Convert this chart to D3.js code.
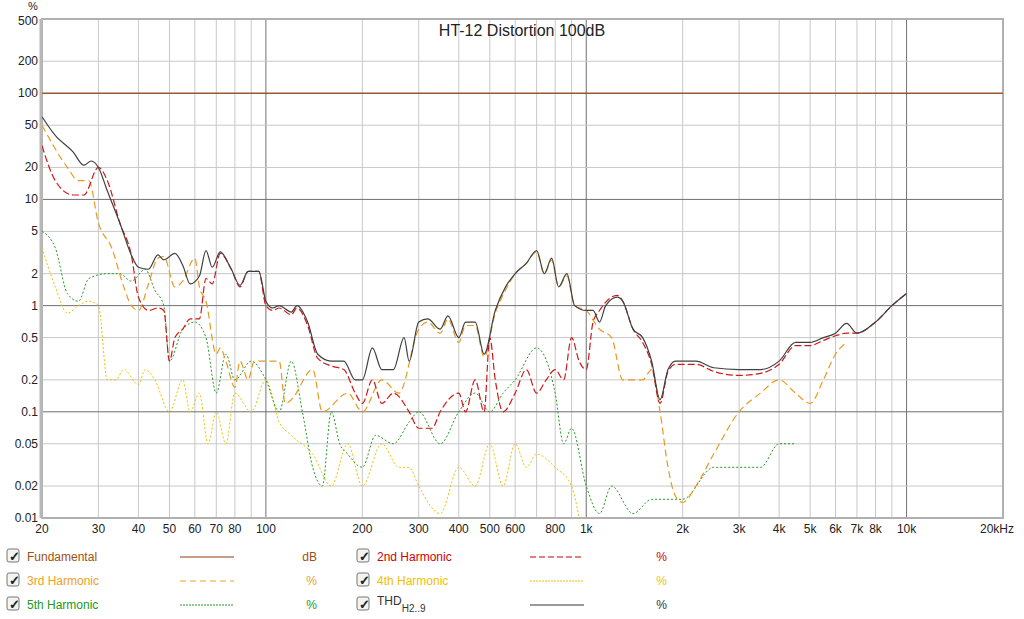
<!DOCTYPE html><html><head><meta charset="utf-8"><script src="https://cdn.jsdelivr.net/npm/d3@7"></script>
<style>body{margin:0;background:#fff;font-family:Arial,"Liberation Sans",sans-serif}</style></head><body><svg id="c" width="1024" height="619"></svg>
<script>
const xTicks=[20,30,40,50,60,70,80,100,200,300,400,500,600,800,1000,2000,3000,4000,5000,6000,7000,8000,10000,20000];
const xLabels=["20","30","40","50","60","70","80","100","200","300","400","500","600","800","1k","2k","3k","4k","5k","6k","7k","8k","10k","20kHz"];
const yTicks=[0.01,0.02,0.05,0.1,0.2,0.5,1,2,5,10,20,50,100,200,500];
const yLabels=["0.01","0.02","0.05","0.1","0.2","0.5","1","2","5","10","20","50","100","200","500"];
const thd=[[20,60],[22,40],[25,28],[27,21],[28.5,23],[30,20],[32,12],[35,6],[38,3],[40,2.3],[43,2.2],[46,3],[48,2.7],[52,3.1],[55,2.4],[58,1.6],[62,1.9],[65,3.3],[68,2.3],[72,3.2],[78,2.2],[83,1.55],[88,2.1],[95,2.1],[100,1.1],[105,0.95],[110,1.0],[120,0.87],[125,1.0],[135,0.7],[145,0.35],[160,0.3],[175,0.3],[190,0.2],[200,0.2],[215,0.4],[230,0.25],[250,0.25],[270,0.5],[280,0.3],[300,0.7],[320,0.75],[350,0.6],[370,0.8],[400,0.5],[420,0.7],[450,0.7],[480,0.35],[520,0.9],[560,1.5],[600,2],[650,2.5],[700,3.3],[740,2.0],[780,2.8],[820,1.5],[870,2.0],[920,1.0],[1000,0.9],[1050,0.9],[1100,0.7],[1150,1.0],[1250,1.2],[1300,1.1],[1400,0.6],[1500,0.5],[1600,0.3],[1700,0.13],[1800,0.25],[1900,0.3],[2000,0.3],[2200,0.3],[2500,0.26],[3000,0.25],[3500,0.25],[4000,0.3],[4500,0.45],[5000,0.45],[5500,0.5],[6000,0.55],[6500,0.68],[7000,0.55],[8000,0.7],[9000,1.0],[10000,1.3]];
const h2=[[20,32],[22,15],[25,11],[27,11],[30,20],[32,15],[35,6],[38,3],[40,1.2],[43,0.9],[46,0.95],[48,0.9],[50,0.3],[52,0.5],[55,0.6],[58,0.75],[62,0.75],[65,1.8],[68,1.6],[72,3.1],[78,2.2],[83,1.5],[88,2.1],[95,2.1],[100,1.0],[105,0.9],[110,0.95],[120,0.82],[125,0.95],[135,0.65],[145,0.32],[160,0.27],[175,0.25],[190,0.15],[200,0.12],[215,0.2],[230,0.12],[250,0.15],[280,0.1],[300,0.07],[330,0.07],[350,0.1],[400,0.15],[420,0.1],[450,0.2],[480,0.1],[500,0.5],[520,0.2],[550,0.1],[600,0.15],[650,0.25],[700,0.15],[750,0.2],[800,0.25],[850,0.2],[900,0.5],[950,0.3],[1000,0.25],[1050,0.7],[1100,0.9],[1250,1.25],[1300,1.1],[1400,0.6],[1500,0.45],[1600,0.28],[1700,0.12],[1800,0.24],[1900,0.28],[2000,0.28],[2200,0.28],[2500,0.24],[3000,0.22],[3500,0.23],[4000,0.28],[4500,0.42],[5000,0.42],[5500,0.47],[6000,0.52],[6500,0.55],[7000,0.55],[8000,0.7],[9000,1.0],[10000,1.3]];
const h3=[[20,50],[24,20],[26,15],[28,15],[30,6],[33,3.5],[36,1.5],[38,1.0],[40,0.9],[43,1.6],[46,2.8],[48,2.9],[52,1.5],[55,1.7],[60,2.8],[62,1.5],[65,1.1],[70,0.35],[72,0.4],[75,0.3],[80,0.17],[83,0.3],[88,0.2],[92,0.3],[100,0.3],[110,0.3],[115,0.12],[120,0.13],[140,0.25],[150,0.1],[180,0.15],[200,0.1],[230,0.2],[260,0.15],[300,0.6],[320,0.7],[350,0.55],[370,0.75],[400,0.45],[420,0.65],[450,0.65],[480,0.33],[520,0.85],[560,1.4],[600,2],[650,2.5],[700,3.2],[740,2.0],[780,2.7],[820,1.5],[870,1.9],[920,1.0],[1000,0.9],[1100,0.6],[1200,0.5],[1300,0.2],[1400,0.2],[1500,0.2],[1600,0.25],[1700,0.1],[1800,0.03],[1900,0.016],[2000,0.014],[2200,0.02],[2500,0.04],[3000,0.1],[3500,0.15],[4000,0.2],[4500,0.15],[5000,0.12],[5500,0.2],[6000,0.35],[6500,0.45]];
const h4=[[20,3.5],[22,1.5],[24,0.85],[26,1.0],[28,1.1],[30,1.0],[32,0.2],[34,0.2],[36,0.25],[40,0.18],[42,0.25],[45,0.2],[50,0.1],[55,0.2],[58,0.1],[62,0.15],[66,0.05],[70,0.1],[75,0.05],[80,0.15],[90,0.1],[100,0.2],[110,0.08],[120,0.06],[140,0.04],[160,0.02],[180,0.05],[200,0.02],[230,0.05],[260,0.03],[280,0.03],[300,0.02],[350,0.011],[400,0.03],[450,0.02],[500,0.05],[550,0.02],[600,0.05],[650,0.03],[700,0.04],[800,0.03],[900,0.02],[950,0.01]];
const h5=[[20,5],[22,3.5],[24,1.3],[26,1.1],[28,1.8],[32,2],[35,2],[38,1.7],[42,2.2],[45,1.4],[48,1.0],[50,0.3],[55,0.6],[60,0.7],[65,0.5],[70,0.15],[75,0.35],[80,0.2],[90,0.3],[100,0.2],[110,0.1],[120,0.3],[130,0.1],[140,0.03],[150,0.02],[160,0.1],[170,0.05],[180,0.04],[200,0.03],[220,0.06],[250,0.05],[280,0.08],[300,0.1],[350,0.05],[400,0.1],[450,0.15],[500,0.1],[550,0.15],[600,0.2],[700,0.4],[800,0.15],[850,0.05],[900,0.07],[1000,0.02],[1100,0.011],[1200,0.02],[1400,0.011],[1600,0.015],[1800,0.015],[2000,0.015],[2500,0.03],[3000,0.03],[3500,0.03],[4000,0.05],[4500,0.05]];
const fund=[[20,100],[20000,100]];
const svg=d3.select("#c");
const L=42,R=1003,T=19,B=518;
const x=d3.scaleLog().domain([20,20000]).range([L,R]);
const y=d3.scaleLog().domain([0.01,500]).range([B,T]);
const g=svg.append("g");
const minorX=[];for(let d=10;d<=10000;d*=10)for(let k=2;k<=10;k++){const v=d*k;if(v>=20&&v<=20000)minorX.push(v);}
minorX.forEach(v=>{const maj=(v===100||v===1000||v===10000);g.append("line").attr("x1",x(v)).attr("x2",x(v)).attr("y1",T).attr("y2",B).attr("stroke",maj?"#707070":"#c8c8c8").attr("stroke-width",1);});
yTicks.forEach(v=>{const maj=Math.abs(Math.log10(v)%1)<1e-6;g.append("line").attr("x1",L).attr("x2",R).attr("y1",y(v)).attr("y2",y(v)).attr("stroke",maj?"#707070":"#c8c8c8");});
svg.append("rect").attr("x",L).attr("y",T).attr("width",R-L).attr("height",B-T).attr("fill","none").attr("stroke","#b0b0b0").attr("stroke-width",2);
svg.append("line").attr("x1",L-1).attr("x2",L-1).attr("y1",T).attr("y2",B).attr("stroke","#b8b8b8").attr("stroke-width",3);
xTicks.forEach((v,i)=>svg.append("text").attr("x",x(v)+(i===xTicks.length-1?-6:0)).attr("y",533).attr("text-anchor","middle").attr("font-size",12).attr("fill","#222").text(xLabels[i]));
yTicks.forEach((v,i)=>svg.append("text").attr("x",38).attr("y",y(v)+4+(i===yTicks.length-1?2:0)).attr("text-anchor","end").attr("font-size",12).attr("fill","#222").text(yLabels[i]));
svg.append("text").attr("x",28).attr("y",10).attr("font-size",11).attr("fill","#222").text("%");
svg.append("text").attr("x",522).attr("y",36).attr("text-anchor","middle").attr("font-size",16).attr("fill","#222").text("HT-12 Distortion 100dB");
svg.append("clipPath").attr("id","cp").append("rect").attr("x",L).attr("y",T).attr("width",R-L).attr("height",B-T);
const line=d3.line().x(d=>x(d[0])).y(d=>y(d[1])).curve(d3.curveMonotoneX);
const pg=svg.append("g").attr("clip-path","url(#cp)");
const series=[
 {d:fund,c:"#a04000",dash:null,w:1},
 {d:h4,c:"#f0c000",dash:"2,2",w:1},
 {d:h5,c:"#209a20",dash:"2,2",w:1},
 {d:h3,c:"#e89a20",dash:"7,4",w:1.2},
 {d:h2,c:"#d01818",dash:"7,3",w:1.2},
 {d:thd,c:"#404040",dash:null,w:1.2}];
series.forEach(s=>pg.append("path").attr("d",line(s.d)).attr("fill","none").attr("stroke",s.c).attr("stroke-width",s.w).attr("stroke-dasharray",s.dash));
const leg=[
 {n:"Fundamental",c:"#a05010",u:"dB",dash:null,lc:"#8b3a10",col:0,row:0},
 {n:"2nd Harmonic",c:"#d00000",u:"%",dash:"6,3",lc:"#c00000",col:1,row:0},
 {n:"3rd Harmonic",c:"#f0a020",u:"%",dash:"6,4",lc:"#f0a020",col:0,row:1},
 {n:"4th Harmonic",c:"#f0c000",u:"%",dash:"2,1",lc:"#f0c000",col:1,row:1},
 {n:"5th Harmonic",c:"#209a20",u:"%",dash:"2,1",lc:"#209a20",col:0,row:2},
 {n:"THD",c:"#333",u:"%",dash:null,lc:"#333",col:1,row:2}];
leg.forEach(l=>{const ox=l.col?350:0,oy=557+l.row*24;
 const gg=svg.append("g");
 gg.append("rect").attr("x",ox+7).attr("y",oy-8).attr("width",12).attr("height",13).attr("rx",2).attr("fill","#f4f4f4").attr("stroke","#777");
 gg.append("text").attr("x",ox+8.5).attr("y",oy+4).attr("font-size",13).attr("font-weight","bold").attr("fill","#222").text("✓");
 const t=gg.append("text").attr("x",ox+27).attr("y",oy+4).attr("font-size",12).attr("fill",l.c).text(l.n);
 if(l.n==="THD"){t.attr("y",oy);t.append("tspan").attr("font-size",10).attr("dy",7).text("H2..9");}
 gg.append("line").attr("x1",ox+180).attr("x2",ox+234).attr("y1",oy).attr("y2",oy).attr("stroke",l.lc).attr("stroke-dasharray",l.dash);
 gg.append("text").attr("x",ox+317).attr("y",oy+4).attr("text-anchor","end").attr("font-size",12).attr("fill",l.c).text(l.u);});
</script></body></html>
